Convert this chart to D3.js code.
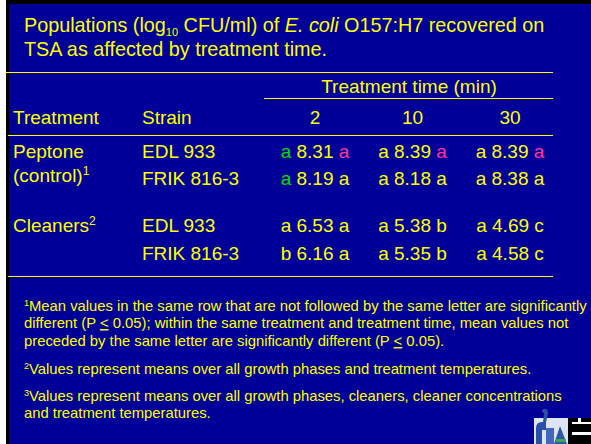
<!DOCTYPE html>
<html>
<head>
<meta charset="utf-8">
<script src="https://cdn.jsdelivr.net/npm/d3@7"></script>
<style>
  body { margin: 0; background: #fff; }
  svg text { font-family: Arial, "Liberation Sans", sans-serif; fill: #ffff00; }
</style>
</head>
<body>
<div id="content"></div>
<script>
// table data
const times = ['2', '10', '30'];
const treatments = ['Peptone', 'Cleaners'];
const strains = ['EDL 933', 'FRIK 816-3'];
// values[treatment][strain][time]
const values = [
  [[8.31, 8.39, 8.39], [8.19, 8.18, 8.38]],
  [[6.53, 5.38, 4.69], [6.16, 5.35, 4.58]]
];
const preLetters = [
  [['a', 'a', 'a'], ['a', 'a', 'a']],
  [['a', 'a', 'a'], ['b', 'a', 'a']]
];
const postLetters = [
  [['a', 'a', 'a'], ['a', 'a', 'a']],
  [['a', 'b', 'c'], ['a', 'b', 'c']]
];
const footnotes = [
  ['1', 'Mean values in the same row that are not followed by the same letter are significantly',
   'different (P |<| 0.05); within the same treatment and treatment time, mean values not',
   'preceded by the same letter are significantly different (P |<| 0.05).'],
  ['2', 'Values represent means over all growth phases and treatment temperatures.'],
  ['3', 'Values represent means over all growth phases, cleaners, cleaner concentrations',
   'and treatment temperatures.']
];

const W = 591, H = 444;
const yellow = '#ffff00', green = '#00dd00', pink = '#ff3399';

let svg = d3.select('#content').append('svg')
  .attr('width', W).attr('height', H);

// slide background and borders
svg.append('rect').attr('width', W).attr('height', H).attr('fill', '#000099');
svg.append('rect').attr('x', 0).attr('y', 0).attr('width', 6).attr('height', H).attr('fill', '#fff');
svg.append('rect').attr('x', 6).attr('y', 0).attr('width', 3).attr('height', H).attr('fill', '#000');
svg.append('rect').attr('x', 6).attr('y', 0).attr('width', W).attr('height', 4).attr('fill', '#000');

// title
let t1 = svg.append('text').attr('x', 24).attr('y', 32).style('font-size', '19.8px');
t1.append('tspan').text('Populations (log');
t1.append('tspan').attr('dy', 4).style('font-size', '11px').text('10');
t1.append('tspan').attr('dy', -4).text(' CFU/ml) of ');
t1.append('tspan').style('font-style', 'italic').text('E. coli');
t1.append('tspan').text(' O157:H7 recovered on');
svg.append('text').attr('x', 24).attr('y', 56).style('font-size', '19.8px')
  .text('TSA as affected by treatment time.');

// rules
const rule = (x1, x2, y) => svg.append('line')
  .attr('x1', x1).attr('x2', x2).attr('y1', y).attr('y2', y)
  .attr('stroke', yellow).attr('stroke-width', 1.2);
rule(6, 553, 72.5);
rule(264, 553, 98.5);
rule(8, 553, 135.5);
rule(8, 553, 276.5);

// scales
let x = d3.scalePoint().domain(times).range([315, 510]);
let yT = d3.scalePoint().domain(treatments).range([158, 232]);
let yS = d3.scalePoint().domain(strains).range([0, 27]);

const fs = '19px';
svg.append('text').attr('x', 409).attr('y', 93).attr('text-anchor', 'middle')
  .style('font-size', fs).text('Treatment time (min)');
svg.append('text').attr('x', 13).attr('y', 124).style('font-size', fs).text('Treatment');
svg.append('text').attr('x', 142).attr('y', 124).style('font-size', fs).text('Strain');
svg.selectAll('.timehead').data(times).enter().append('text')
  .attr('class', 'timehead')
  .attr('x', d => x(d)).attr('y', 124).attr('text-anchor', 'middle')
  .style('font-size', fs).text(d => d);

// treatment labels
svg.append('text').attr('x', 13).attr('y', yT('Peptone')).style('font-size', fs).text('Peptone');
let ctl = svg.append('text').attr('x', 13).attr('y', yT('Peptone') + 24).style('font-size', fs);
ctl.append('tspan').text('(control)');
ctl.append('tspan').attr('baseline-shift', '7').style('font-size', '12px').text('1');
let cln = svg.append('text').attr('x', 13).attr('y', yT('Cleaners')).style('font-size', fs);
cln.append('tspan').text('Cleaners');
cln.append('tspan').attr('baseline-shift', '7').style('font-size', '12px').text('2');

// cells
let cells = [];
treatments.forEach((t, ti) => strains.forEach((s, si) => times.forEach((tm, k) => {
  cells.push({t, s, tm, ti, si, k});
})));

treatments.forEach((t, ti) => strains.forEach((s, si) => {
  svg.append('text').attr('x', 142).attr('y', yT(t) + yS(s) + (ti === 1 && si === 1 ? 1 : 0))
    .style('font-size', fs).text(s);
}));

let cell = svg.selectAll('.cell').data(cells).enter().append('text')
  .attr('class', 'cell')
  .attr('x', d => x(d.tm))
  .attr('y', d => yT(d.t) + yS(d.s) + (d.ti === 1 && d.si === 1 ? 1 : 0))
  .attr('text-anchor', 'middle')
  .style('font-size', fs);
cell.append('tspan')
  .style('fill', d => (d.ti === 0 && d.k === 0) ? green : yellow)
  .text(d => preLetters[d.ti][d.si][d.k]);
cell.append('tspan')
  .text(d => ' ' + d3.format('.2f')(values[d.ti][d.si][d.k]) + ' ');
cell.append('tspan')
  .style('fill', d => (d.ti === 0 && d.si === 0) ? pink : yellow)
  .text(d => postLetters[d.ti][d.si][d.k]);

// footnotes
const fnY = [[311, 328, 346], [374], [401, 418]];
footnotes.forEach((fn, i) => {
  fn.slice(1).forEach((line, j) => {
    let tx = svg.append('text').attr('x', 24).attr('y', fnY[i][j]).style('font-size', '14.8px');
    if (j === 0) {
      tx.append('tspan').attr('baseline-shift', '5').style('font-size', '9px').text(fn[0]);
    }
    line.split('|').forEach((part, p) => {
      let sp = tx.append('tspan').text(part);
      if (p === 1) sp.style('text-decoration', 'underline');
    });
  });
});

// logo (bottom right)
let logo = svg.append('g').attr('transform', 'translate(534,406)');
logo.append('rect').attr('x', 0).attr('y', 12).attr('width', 34).attr('height', 26).attr('fill', '#dde4f4');
logo.append('path').attr('d', 'M2,38 L2,22 Q2,16 8,16 L12,16 L12,24 L8,24 L8,38 Z').attr('fill', '#2a4fa8');
logo.append('path').attr('d', 'M8,4 Q14,0 14,8 L12,16 L9,16 L10,8 Q9,5 8,6 Z').attr('fill', '#2a4fa8');
logo.append('path').attr('d', 'M12,38 L12,22 L20,22 L20,38 Z').attr('fill', '#4466bb');
logo.append('path').attr('d', 'M20,38 L26,20 L33,38 Z').attr('fill', '#3355aa');
logo.append('rect').attr('x', 22).attr('y', 33).attr('width', 10).attr('height', 3).attr('fill', '#33aa55');
logo.append('rect').attr('x', 34).attr('y', 12).attr('width', 23).attr('height', 26).attr('fill', '#000');
logo.append('rect').attr('x', 38).attr('y', 16).attr('width', 19).attr('height', 2).attr('fill', '#fff');
logo.append('rect').attr('x', 38).attr('y', 26).attr('width', 19).attr('height', 3).attr('fill', '#fff');
logo.append('rect').attr('x', 44).attr('y', 12).attr('width', 3).attr('height', 4).attr('fill', '#fff');
</script>
</body>
</html>
